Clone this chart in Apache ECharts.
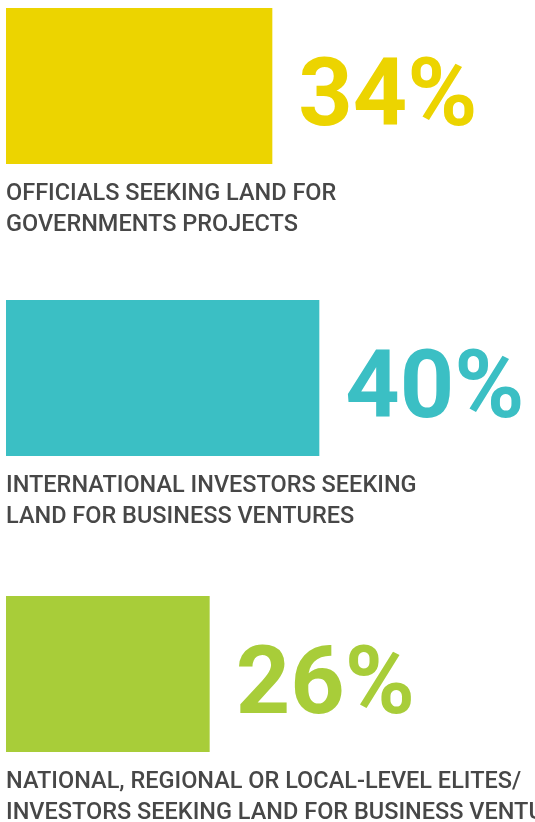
<!DOCTYPE html>
<html>
<head>
<meta charset="utf-8">
<script src="https://cdn.jsdelivr.net/npm/echarts@6/dist/echarts.min.js"></script>
<style>
  html, body { margin: 0; padding: 0; background: #fff; }
  #chart { width: 535px; height: 822px; }
</style>
</head>
<body>
<div id="chart"></div>
<script>
// 数据
var categories = ['officials', 'international', 'national'];
var shares = [34, 40, 26];
var captions = [
    'OFFICIALS SEEKING LAND FOR\nGOVERNMENTS PROJECTS',
    'INTERNATIONAL INVESTORS SEEKING\nLAND FOR BUSINESS VENTURES',
    'NATIONAL, REGIONAL OR LOCAL-LEVEL ELITES/\nINVESTORS SEEKING LAND FOR BUSINESS VENTURES'
];
var colors = ['#ECD400', '#3BBFC4', '#A8CD39'];

var barTops = [8, 300, 596];
var barHeight = 156;

var chart = echarts.init(document.getElementById('chart'));

var grids = [], xAxes = [], yAxes = [], series = [], titles = [];
categories.forEach(function (name, i) {
    grids.push({ left: 6, width: 470, top: barTops[i], height: barHeight });
    xAxes.push({ gridIndex: i, type: 'value', min: 0, max: 60, show: false });
    yAxes.push({ gridIndex: i, type: 'category', data: [name], show: false });
    series.push({
        type: 'bar',
        xAxisIndex: i,
        yAxisIndex: i,
        data: [shares[i]],
        barWidth: '100%',
        itemStyle: { color: colors[i] },
        label: {
            show: true,
            position: 'right',
            distance: 26,
            offset: [0, 15],
            formatter: '{c}%',
            color: colors[i],
            fontFamily: 'Roboto',
            fontWeight: 'bold',
            fontSize: 95
        },
        silent: true,
        animation: false
    });
    //标题用作下方说明文字
    titles.push({
        text: captions[i],
        left: 6,
        top: barTops[i] + barHeight + 14,
        padding: 0,
        textStyle: {
            color: '#474747',
            fontFamily: 'Roboto',
            fontWeight: 500,
            fontSize: 23.5,
            lineHeight: 31.5
        }
    });
});

var option = {
    backgroundColor: '#ffffff',
    title: titles,
    grid: grids,
    xAxis: xAxes,
    yAxis: yAxes,
    series: series
};

chart.setOption(option);
</script>
</body>
</html>
